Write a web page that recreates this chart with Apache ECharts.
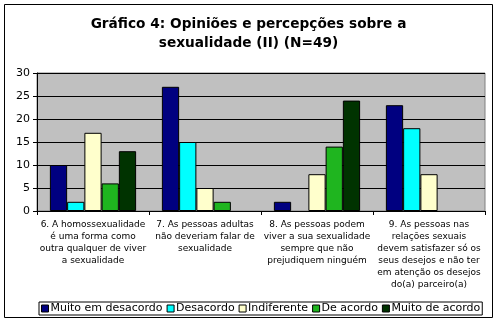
<!DOCTYPE html>
<html>
<head>
<meta charset="utf-8">
<script src="https://cdn.jsdelivr.net/npm/echarts@6/dist/echarts.min.js"></script>
<style>
html,body{margin:0;padding:0;background:#fff;}
#chart{width:497px;height:324px;}
</style>
</head>
<body>
<div id="chart"></div>
<script>
const categories = [
  "6. A homossexualidade\né uma forma como\noutra qualquer de viver\na sexualidade",
  "7. As pessoas adultas\nnão deveriam falar de\nsexualidade",
  "8. As pessoas podem\nviver a sua sexualidade\nsempre que não\nprejudiquem ninguém",
  "9. As pessoas nas\nrelações sexuais\ndevem satisfazer só os\nseus desejos e não ter\nem atenção os desejos\ndo(a) parceiro(a)"
];
const seriesNames = ["Muito em desacordo", "Desacordo", "Indiferente", "De acordo", "Muito de acordo"];
const muitoEmDesacordo = [10, 27, 2, 23];
const desacordo = [2, 15, 0, 18];
const indiferente = [17, 5, 8, 8];
const deAcordo = [6, 2, 14, 0];
const muitoDeAcordo = [13, 0, 24, 0];
const yTicks = [0, 5, 10, 15, 20, 25, 30];

const values = [muitoEmDesacordo, desacordo, indiferente, deAcordo, muitoDeAcordo];
const colors = ["#000080", "#00FFFF", "#FFFFCC", "#1FB51F", "#003300"];
const FONT = "DejaVu Sans";

const chart = echarts.init(document.getElementById('chart'), null, {renderer: 'canvas'});
chart.setOption({
  animation: false,
  backgroundColor: '#ffffff',
  title: {
    text: "Gráfico 4: Opiniões e percepções sobre a\nsexualidade (II) (N=49)",
    left: 'center',
    top: 10,
    textStyle: {fontFamily: FONT, fontSize: 13.7, fontWeight: 'bold', color: '#000', lineHeight: 19}
  },
  graphic: [{
    type: 'rect', shape: {x: 4.5, y: 4.5, width: 488, height: 313},
    style: {fill: null, stroke: '#000', lineWidth: 1}, silent: true, z: -1
  }],
  legend: {
    data: seriesNames,
    left: 39,
    top: 302,
    icon: 'rect',
    itemWidth: 7,
    itemHeight: 7,
    itemGap: 4,
    padding: [1, 2, 1, 2],
    borderColor: '#000',
    borderWidth: 1,
    textStyle: {fontFamily: FONT, fontSize: 11, color: '#000', padding: [0, 0, 0, -3]},
    itemStyle: {borderColor: '#000', borderWidth: 1}
  },
  grid: {
    left: 37, right: 12, top: 73, bottom: 113,
    show: true, backgroundColor: '#C0C0C0', borderColor: '#808080', borderWidth: 1
  },
  xAxis: {
    type: 'category',
    data: categories,
    axisLine: {lineStyle: {color: '#000', width: 1}},
    axisTick: {show: true, length: 4, lineStyle: {color: '#000'}},
    axisLabel: {interval: 0, fontFamily: FONT, fontSize: 9, lineHeight: 12, color: '#000', margin: 8, align: 'center'}
  },
  yAxis: {
    type: 'value',
    min: yTicks[0], max: yTicks[yTicks.length - 1], interval: 5,
    axisLine: {show: true, lineStyle: {color: '#000', width: 1}},
    axisTick: {show: true, length: 4, lineStyle: {color: '#000'}},
    axisLabel: {fontFamily: FONT, fontSize: 11, color: '#000', margin: 7},
    splitLine: {show: true, lineStyle: {color: '#000', width: 1}}
  },
  series: seriesNames.map((name, i) => ({
    name: name,
    type: 'bar',
    data: values[i].map(v => v === 0 ? {value: v, itemStyle: {borderWidth: 0, opacity: 0}} : v),
    barGap: '0%',
    barCategoryGap: '23%',
    itemStyle: {color: colors[i], borderColor: '#000', borderWidth: 1}
  }))
});
</script>
</body>
</html>
